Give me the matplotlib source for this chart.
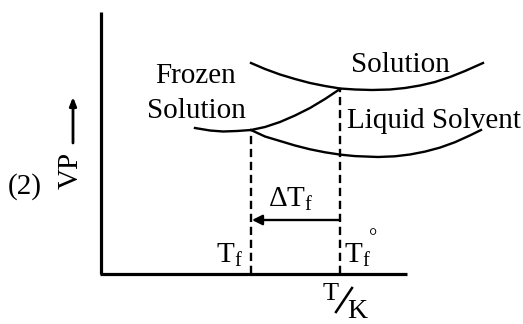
import matplotlib
matplotlib.use("Agg")
import matplotlib.pyplot as plt
import numpy as np

plt.rcParams['font.family'] = ['Liberation Serif', 'DejaVu Serif']
plt.rcParams['mathtext.fontset'] = 'custom'
plt.rcParams['mathtext.rm'] = 'Liberation Serif'
plt.rcParams['mathtext.it'] = 'Liberation Serif:italic'

# Curves: temperature (arbitrary units) and vapour pressure (arbitrary units)
solution_T = [150, 164, 179, 194, 209, 224, 239, 254, 271, 289, 304, 319, 334, 349, 364, 382]
solution_VP = [211, 205, 199.5, 195, 191, 188, 185.5, 184.5, 184, 184.5, 186, 188.5, 192, 197, 203, 211]

liquid_T = [150, 164, 179, 194, 209, 224, 239, 254, 277, 294, 309, 324, 339, 354, 369, 380]
liquid_VP = [144, 137.5, 133, 128.5, 124.7, 121.7, 119.4, 117.9, 117, 117.7, 119.5, 122.4, 126.4, 131.8, 138.6, 144]

frozen_T = [94, 109, 122, 136, 150, 164, 179, 194, 209, 224, 239]
frozen_VP = [146, 143.5, 142.5, 143, 144, 147, 152, 158.5, 166, 175, 185]

Tf = 150      # freezing point of solution
Tf0 = 239     # freezing point of pure solvent
VP_Tf = 144
VP_Tf0 = 185
arrow_VP = 54

fig = plt.figure(figsize=(5.23, 3.24), dpi=100)
ax = fig.add_axes([0, 0, 1, 1])
ax.set_xlim(-101, 422)
ax.set_ylim(-50, 274)
ax.axis('off')

# axes
ax.plot([0, 0], [0, 262], color='black', lw=2.3, solid_capstyle='butt')
ax.plot([-1, 306], [0, 0], color='black', lw=2.3, solid_capstyle='butt')

ax.plot(solution_T, solution_VP, color='black', lw=1.7)
ax.plot(liquid_T, liquid_VP, color='black', lw=1.7)
ax.plot(frozen_T, frozen_VP, color='black', lw=1.7)

ax.plot([Tf, Tf], [0, VP_Tf], color='black', lw=1.7, linestyle=(0, (3.5, 2)))
ax.plot([Tf0, Tf0], [0, VP_Tf0], color='black', lw=1.7, linestyle=(0, (3.5, 2)))

ax.annotate('', xy=(Tf + 1, arrow_VP), xytext=(Tf0, arrow_VP),
            arrowprops=dict(arrowstyle='-|>,head_length=0.6,head_width=0.3',
                            color='black', lw=1.7, shrinkA=0, shrinkB=0))

fs = 21
ax.text(299, 202, 'Solution', fontsize=fs, ha='center', va='baseline')
ax.text(95, 191, 'Frozen', fontsize=fs, ha='center', va='baseline')
ax.text(95, 156, 'Solution', fontsize=fs, ha='center', va='baseline')
ax.text(246, 146, 'Liquid Solvent', fontsize=fs, ha='left', va='baseline')
ax.text(167, 67, r'$\Delta\mathrm{T_f}$', fontsize=fs, ha='left', va='baseline')
ax.text(115, 11, r'$\mathrm{T_f}$', fontsize=fs, ha='left', va='baseline')
ax.text(243, 11, r'$\mathrm{T_f}$', fontsize=fs, ha='left', va='baseline')
ax.text(272, 31, '°', fontsize=15, ha='center', va='baseline')
ax.text(-76, 87, '(2)', fontsize=fs, ha='center', va='center')
ax.text(-30, 104, 'VP', fontsize=fs, ha='center', va='center', rotation=90)
ax.annotate('', xy=(-28, 177), xytext=(-28, 131),
            arrowprops=dict(arrowstyle='-|>,head_length=0.5,head_width=0.2',
                            color='black', lw=2.0, shrinkA=0, shrinkB=0))
# T/K label
ax.text(230, -26, 'T', fontsize=19, ha='center', va='baseline')
ax.plot([235, 251], [-38, -14], color='black', lw=1.8)
ax.text(256, -44, 'K', fontsize=20, ha='center', va='baseline')

fig.savefig('out.png', dpi=100)
